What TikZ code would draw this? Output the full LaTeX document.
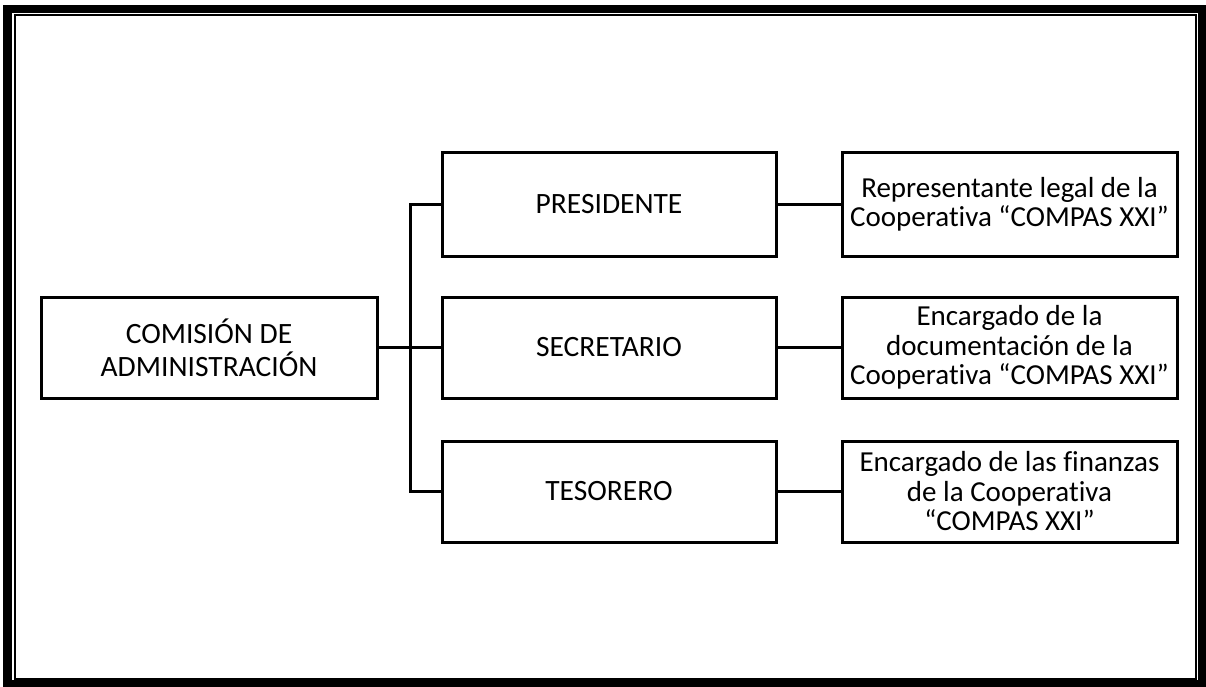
\documentclass[tikz,border=0pt]{standalone}
\usepackage{fontspec}
\setmainfont{Carlito}[Ligatures=NoCommon]
\begin{document}
\begin{tikzpicture}[x=1pt, y=-1pt,
	cargo/.style={draw, line width=3pt, rectangle, minimum width=334pt, minimum height=101pt, inner sep=0pt, align=center, font=\fontsize{29.5}{33}\selectfont},
	funcion/.style={draw, line width=3pt, rectangle, minimum width=335pt, minimum height=101pt, inner sep=0pt, align=center, font=\fontsize{29}{29.5}\selectfont},
	enlace/.style={line width=3pt} ]
		\useasboundingbox (0,0) rectangle (1206,687);
		\draw[line width=8.5pt] (7.5,9) rectangle (1202.5,684);
		\draw[line width=2pt] (15,15.5) rectangle (1196,679);

		\node[cargo, minimum width=336pt] (C) at (209,347.5) {COMISIÓN DE\\ADMINISTRACIÓN};
		\node[cargo, minimum height=103pt] (P) at (609,204.5) {PRESIDENTE};
		\node[cargo] (S) at (609,347.5) {SECRETARIO};
		\node[cargo] (T) at (609,491.5) {TESORERO};

		\node[funcion, minimum height=103pt] (P2) at (1009.5,204.5) {Representante legal de la\\Cooperativa “COMPAS XXI”};
		\node[funcion] (S2) at (1009.5,347.5) {Encargado de la\\documentación de la\\Cooperativa “COMPAS XXI”};
		\node[funcion] (T2) at (1009.5,491.5) {Encargado de las finanzas\\de la Cooperativa\\“COMPAS XXI”};

		\coordinate (J) at (410,347.5);
		\draw[enlace] (C) -- (S);
		\draw[enlace] (P.west) -| (J) |- (T.west);
		\draw[enlace] (P) -- (P2);
		\draw[enlace] (S) -- (S2);
		\draw[enlace] (T) -- (T2);
	\end{tikzpicture}
\end{document}
